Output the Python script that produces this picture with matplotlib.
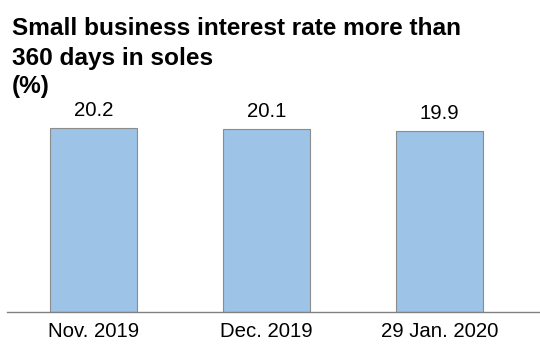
import matplotlib.pyplot as plt

# interest rate data
categories = ['Nov. 2019', 'Dec. 2019', '29 Jan. 2020']
rates = [20.2, 20.1, 19.9]
value_labels = ['20.2', '20.1', '19.9']
title_lines = ['Small business interest rate more than', '360 days in soles', '(%)']

plt.rcParams['font.family'] = ['Liberation Sans', 'DejaVu Sans']

W, H = 540, 347
fig = plt.figure(figsize=(W / 100, H / 100), dpi=100)
ax = fig.add_axes([0.013, 1 - 312 / H, 0.987, 0.63])

x = range(len(categories))
bars = ax.bar(x, rates, width=0.503, color='#9DC3E6', edgecolor='#8C8C8C', linewidth=0.8)
for b, lab in zip(bars, value_labels):
    ax.annotate(lab, (b.get_x() + b.get_width() / 2, b.get_height()),
                xytext=(0, 8.6), textcoords='offset points',
                ha='center', va='baseline', fontsize=14.7)

ax.set_xlim(-0.5, 2.58)
ax.set_ylim(0, 24)
ax.set_xticks(list(x))
ax.set_xticklabels(categories, fontsize=14.7)
ax.tick_params(axis='x', length=0, pad=7)
ax.set_yticks([])
for s in ['top', 'right', 'left']:
    ax.spines[s].set_visible(False)
ax.spines['bottom'].set_color('#808080')
ax.spines['bottom'].set_linewidth(1)

# title, one line at a time (baselines in pixels from the top)
for line, base in zip(title_lines, [35, 64.5, 92.5]):
    fig.text(12 / W, 1 - base / H, line, ha='left', va='baseline',
             fontsize=17.6, fontweight='bold')

fig.savefig('out.png', dpi=100)
